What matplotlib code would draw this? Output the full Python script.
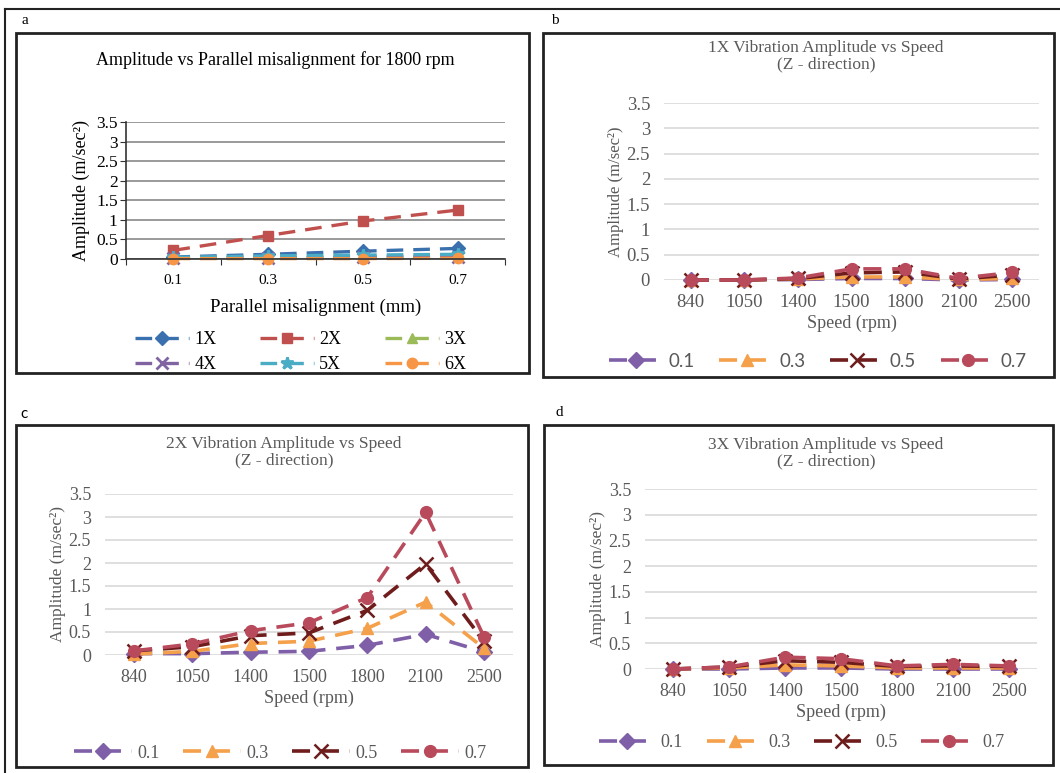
import matplotlib
matplotlib.use("Agg")
import matplotlib.pyplot as plt
from matplotlib.patches import Rectangle
from matplotlib.lines import Line2D

plt.rcParams['font.family'] = ['Liberation Serif', 'DejaVu Serif']

W, H = 1060, 773

# --- a: amplitude vs parallel misalignment at 1800 rpm
misalign = ['0.1', '0.3', '0.5', '0.7']
amp_1x = [0.05, 0.12, 0.20, 0.27]
amp_2x = [0.22, 0.60, 0.97, 1.25]
amp_3x = [0.03, 0.05, 0.06, 0.07]
amp_4x = [0.02, 0.03, 0.04, 0.05]
amp_5x = [0.04, 0.08, 0.10, 0.12]
amp_6x = [0.01, 0.01, 0.01, 0.02]

# --- b, c, d: amplitude vs speed for each misalignment (mm)
speeds = ['840', '1050', '1400', '1500', '1800', '2100', '2500']
mis_labels = ['0.1', '0.3', '0.5', '0.7']

x1_01 = [0.00, 0.00, 0.01, 0.03, 0.03, 0.00, 0.01]
x1_03 = [0.00, 0.00, 0.02, 0.06, 0.06, 0.01, 0.03]
x1_05 = [0.00, 0.00, 0.03, 0.14, 0.16, 0.02, 0.10]
x1_07 = [0.00, 0.00, 0.04, 0.22, 0.22, 0.03, 0.15]

x2_01 = [0.03, 0.03, 0.06, 0.08, 0.21, 0.45, 0.07]
x2_03 = [0.02, 0.08, 0.25, 0.30, 0.58, 1.15, 0.15]
x2_05 = [0.09, 0.18, 0.42, 0.48, 0.97, 1.98, 0.30]
x2_07 = [0.09, 0.24, 0.53, 0.70, 1.25, 3.10, 0.40]

x3_01 = [0.00, 0.00, 0.02, 0.02, 0.00, 0.00, 0.00]
x3_03 = [0.00, 0.02, 0.08, 0.06, 0.02, 0.02, 0.02]
x3_05 = [0.00, 0.04, 0.16, 0.13, 0.05, 0.06, 0.05]
x3_07 = [0.00, 0.04, 0.23, 0.20, 0.06, 0.09, 0.06]

harm_colors = ['#3b70ae', '#c0504d', '#9bbb59', '#8064a2', '#4bacc6', '#f79646']
harm_markers = ['D', 's', '^', 'x', '*', 'o']
mis_colors = ['#7f5fa8', '#f5a04a', '#6e1c1c', '#b84a5c']
mis_markers = ['D', '^', 'x', 'o']

fig = plt.figure(figsize=(W / 100, H / 100), dpi=100)


def box(x0, y0, x1, y1):
    return [x0 / W, 1 - y1 / H, (x1 - x0) / W, (y1 - y0) / H]


def frame(x0, y0, x1, y1, lw=2.0):
    fig.patches.append(Rectangle((x0 / W, 1 - y1 / H), (x1 - x0) / W, (y1 - y0) / H,
                                 transform=fig.transFigure, fill=False,
                                 edgecolor='#222222', linewidth=lw))


# outer border lines
fig.add_artist(Line2D([5 / W, 1], [1 - 9 / H, 1 - 9 / H], color='#222222', lw=1.5))
fig.add_artist(Line2D([5 / W, 5 / W], [0, 1 - 9 / H], color='#222222', lw=1.5))

frame(16, 33, 529, 373)
frame(543, 33, 1054, 377)
frame(16, 425, 528, 767)
frame(544, 425, 1053, 765)

fig.text(22 / W, 1 - 21 / H, 'a', fontsize=11, va='center')
fig.text(551 / W, 1 - 20 / H, 'b', fontsize=11, va='center')
fig.text(20 / W, 1 - 414 / H, 'c', fontsize=11, va='center', family='Lato')
fig.text(556 / W, 1 - 412 / H, 'd', fontsize=11, va='center')

dash = (5, 3)

# ---------------- panel a
ax = fig.add_axes(box(126, 122, 505, 259))
xs = range(len(misalign))
series_a = [amp_1x, amp_2x, amp_3x, amp_4x, amp_5x, amp_6x]
names_a = ['1X', '2X', '3X', '4X', '5X', '6X']
lines_a = []
for vals, c, m, n in zip(series_a, harm_colors, harm_markers, names_a):
    ms = 9 if m in ('x', '*') else 7.5
    ln, = ax.plot(xs, vals, color=c, lw=2.4, dashes=dash, marker=m, ms=ms,
                  mew=2 if m in ('x', '*') else 1, label=n, clip_on=False)
    lines_a.append(ln)
ax.set_xlim(-0.5, 3.5)
ax.set_ylim(0, 3.5)
ax.set_yticks([0, 0.5, 1, 1.5, 2, 2.5, 3, 3.5])
ax.set_yticklabels(['0', '0.5', '1', '1.5', '2', '2.5', '3', '3.5'])
ax.set_xticks([-0.5, 0.5, 1.5, 2.5, 3.5])
ax.set_xticklabels([])
ax.set_xticks(list(xs), minor=True)
ax.set_xticklabels(misalign, minor=True)
ax.tick_params(axis='x', which='minor', length=0, pad=11, labelsize=11)
ax.tick_params(axis='x', which='major', length=4, direction='out', color='#333333')
ax.tick_params(axis='y', length=4, direction='out', labelsize=12.5, pad=2, color='#333333')
ax.grid(axis='y', color='#7f7f7f', lw=1.1)
ax.set_axisbelow(True)
for s in ['top', 'right']:
    ax.spines[s].set_visible(False)
for s in ['left', 'bottom']:
    ax.spines[s].set_color('#333333')
    ax.spines[s].set_linewidth(1.2)
ax.set_ylabel('Amplitude (m/sec²)', fontsize=13, labelpad=4)
ax.set_xlabel('Parallel misalignment (mm)', fontsize=13.5, labelpad=8)
fig.text(275 / W, 1 - 60 / H, 'Amplitude vs Parallel misalignment for 1800 rpm',
         fontsize=13, ha='center', va='center')
# legend filled row by row: 1X 2X 3X / 4X 5X 6X
order = [0, 3, 1, 4, 2, 5]
ax.legend([lines_a[i] for i in order], [names_a[i] for i in order],
          loc='center', bbox_to_anchor=(0.46, -0.68), ncol=3, frameon=False,
          fontsize=13, handlelength=3.0, columnspacing=2.4, labelspacing=0.45,
          handletextpad=0.3)


# ---------------- panels b, c, d
def speed_panel(rect, series, title, title_xy, leg_y, leg_font, leg_size,
                tick_size, ylab_size, leg_x=0.45, hlen=2.9):
    ax = fig.add_axes(box(*rect))
    xs = range(len(speeds))
    for vals, c, m, n in zip(series, mis_colors, mis_markers, mis_labels):
        ms = 10 if m == 'x' else 8.5
        ax.plot(xs, vals, color=c, lw=2.6, dashes=dash, marker=m, ms=ms,
                mew=1.8 if m == 'x' else 1, label=n, clip_on=False)
    ax.set_xlim(-0.5, 6.5)
    ax.set_ylim(0, 3.5)
    ax.set_yticks([0, 0.5, 1, 1.5, 2, 2.5, 3, 3.5])
    ax.set_yticklabels(['0', '0.5', '1', '1.5', '2', '2.5', '3', '3.5'])
    ax.set_xticks(list(xs))
    ax.set_xticklabels(speeds)
    ax.tick_params(length=0, colors='#595959', labelsize=tick_size)
    ax.tick_params(axis='y', pad=10)
    ax.tick_params(axis='x', pad=10)
    ax.grid(axis='y', color='#d9d9d9', lw=1.2)
    ax.set_axisbelow(True)
    for s in ax.spines.values():
        s.set_visible(False)
    ax.set_ylabel('Amplitude (m/sec²)', fontsize=ylab_size, color='#595959', labelpad=2)
    ax.set_xlabel('Speed (rpm)', fontsize=13, color='#595959', labelpad=3)
    fig.text(title_xy[0] / W, 1 - title_xy[1] / H,
             title + '\n(Z - direction)', fontsize=12.5, color='#595959',
             ha='center', va='center', linespacing=1.0)
    leg = ax.legend(loc='center', bbox_to_anchor=(leg_x, leg_y), ncol=4, frameon=False,
                    handlelength=hlen, columnspacing=1.3, handletextpad=0.3,
                    prop={'family': leg_font, 'size': leg_size})
    for t in leg.get_texts():
        t.set_color('#595959')
    return ax


speed_panel((664, 103, 1039, 280), [x1_01, x1_03, x1_05, x1_07],
            '1X Vibration Amplitude vs Speed', (826, 56), -0.46, 'Lato', 13.5, 13.5, 12,
            leg_x=0.41)
speed_panel((105, 494, 513, 655), [x2_01, x2_03, x2_05, x2_07],
            '2X Vibration Amplitude vs Speed', (284, 452), -0.61, 'Liberation Serif', 13, 13, 12.5,
            leg_x=0.43, hlen=3.2)
speed_panel((645, 489, 1037, 669), [x3_01, x3_03, x3_05, x3_07],
            '3X Vibration Amplitude vs Speed', (826, 453), -0.41, 'Liberation Serif', 13, 13, 12.5,
            leg_x=0.40, hlen=3.1)

fig.savefig('out.png', dpi=100)
